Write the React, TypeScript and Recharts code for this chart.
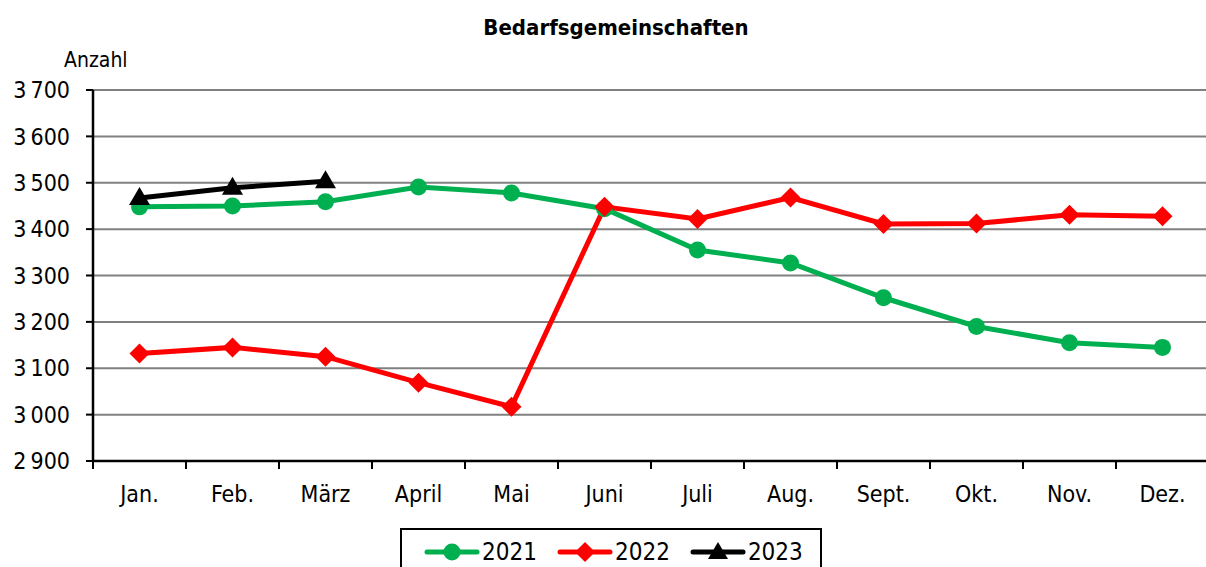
import React from "react";
import { LineChart, Line, XAxis, YAxis, CartesianGrid } from "recharts";

const months = ["Jan.", "Feb.", "März", "April", "Mai", "Juni", "Juli", "Aug.", "Sept.", "Okt.", "Nov.", "Dez."];
const values2021 = [3448, 3450, 3459, 3491, 3478, 3444, 3355, 3327, 3252, 3190, 3155, 3145];
const values2022 = [3132, 3145, 3125, 3069, 3017, 3448, 3422, 3468, 3411, 3412, 3431, 3428];
const values2023: (number | null)[] = [3467, 3489, 3503, null, null, null, null, null, null, null, null, null];
const yTicks = [2900, 3000, 3100, 3200, 3300, 3400, 3500, 3600, 3700];

const seriesNames = ["2021", "2022", "2023"];
const GREEN = "#00b050";
const RED = "#ff0000";
const BLACK = "#000000";

const data = months.map((m, i) => ({
  month: m,
  y2021: values2021[i],
  y2022: values2022[i],
  y2023: values2023[i],
}));

const FONT = "'DejaVu Sans Condensed', 'DejaVu Sans', sans-serif";

const CircleDot = (props: any) => {
  const { cx, cy, index } = props;
  if (cx == null || cy == null) return <g key={index} />;
  return <circle key={index} cx={cx} cy={cy} r={8.5} fill={GREEN} />;
};
const DiamondDot = (props: any) => {
  const { cx, cy, index } = props;
  if (cx == null || cy == null) return <g key={index} />;
  const s = 10;
  return <polygon key={index} points={`${cx},${cy - s} ${cx + s},${cy} ${cx},${cy + s} ${cx - s},${cy}`} fill={RED} />;
};
const TriDot = (props: any) => {
  const { cx, cy, index, value } = props;
  if (cx == null || cy == null || value == null) return <g key={index} />;
  return <polygon key={index} points={`${cx},${cy - 11} ${cx + 10.5},${cy + 7} ${cx - 10.5},${cy + 7}`} fill={BLACK} />;
};

const XTick = (props: any) => {
  const { x, y, payload } = props;
  return (
    <g>
      <line x1={x - 46.5} x2={x - 46.5} y1={y} y2={y + 8} stroke="#000" strokeWidth={2} />
      <text x={x} y={y + 41} textAnchor="middle" fontSize={23} fontFamily={FONT} fill="#000">
        {payload.value}
      </text>
    </g>
  );
};

const fmt = (v: number) => {
  const s = String(v);
  return s.length > 3 ? s.slice(0, s.length - 3) + "\u2009" + s.slice(-3) : s;
};

const LegendIcon = ({ color, kind }: { color: string; kind: string }) => (
  <svg width={56} height={24} style={{ display: "block" }}>
    <line x1={3} x2={53} y1={12} y2={12} stroke={color} strokeWidth={5} strokeLinecap="round" />
    {kind === "circle" && <circle cx={28} cy={12} r={8.5} fill={color} />}
    {kind === "diamond" && <polygon points="28,2 38,12 28,22 18,12" fill={color} />}
    {kind === "triangle" && <polygon points="28,2 38,19 18,19" fill={color} />}
  </svg>
);

export default function App() {
  const legendItems = [
    { name: seriesNames[0], color: GREEN, kind: "circle" },
    { name: seriesNames[1], color: RED, kind: "diamond" },
    { name: seriesNames[2], color: BLACK, kind: "triangle" },
  ];
  return (
    <div style={{ position: "absolute", left: 0, top: 0, width: 1206, height: 567, overflow: "hidden", background: "#fff", fontFamily: FONT }}>
      <div style={{ position: "absolute", left: 0, width: 1232, top: 15, textAlign: "center", fontSize: 22, fontWeight: 700, color: "#000" }}>
        Bedarfsgemeinschaften
      </div>
      <div style={{ position: "absolute", left: 64, top: 48, fontSize: 21, color: "#000" }}>Anzahl</div>
      <LineChart width={1212} height={567} data={data} margin={{ top: 90, right: 3, left: 0, bottom: 0 }}>
        <CartesianGrid vertical={false} stroke="#808080" strokeWidth={2} />
        <XAxis
          dataKey="month"
          scale="band"
          interval={0}
          tickLine={false}
          tickSize={0}
          tickMargin={0}
          axisLine={{ stroke: "#000", strokeWidth: 2.5 }}
          tick={<XTick />}
          height={106}
        />
        <YAxis
          domain={[2900, 3700]}
          ticks={yTicks}
          interval={0}
          width={93}
          tickFormatter={fmt}
          tickSize={7}
          tickMargin={16}
          tickLine={{ stroke: "#000", strokeWidth: 2 }}
          axisLine={{ stroke: "#000", strokeWidth: 2.5 }}
          tick={{ fontSize: 23, fill: "#000", fontFamily: FONT }}
        />
        <Line dataKey="y2021" stroke={GREEN} strokeWidth={5} dot={<CircleDot />} isAnimationActive={false} />
        <Line dataKey="y2022" stroke={RED} strokeWidth={5} dot={<DiamondDot />} isAnimationActive={false} />
        <Line dataKey="y2023" stroke={BLACK} strokeWidth={5} dot={<TriDot />} isAnimationActive={false} />
      </LineChart>
      <div style={{ position: "absolute", left: 400, top: 528, width: 422, height: 50, border: "2px solid #000", boxSizing: "border-box", background: "#fff" }}>
        <div style={{ display: "flex", alignItems: "center", position: "absolute", left: 22, top: 10 }}>
          {legendItems.map((it) => (
            <div key={it.name} style={{ display: "flex", alignItems: "center", marginRight: 20 }}>
              <LegendIcon color={it.color} kind={it.kind} />
              <span style={{ fontSize: 24, marginLeft: 2, lineHeight: "24px" }}>{it.name}</span>
            </div>
          ))}
        </div>
      </div>
    </div>
  );
}
